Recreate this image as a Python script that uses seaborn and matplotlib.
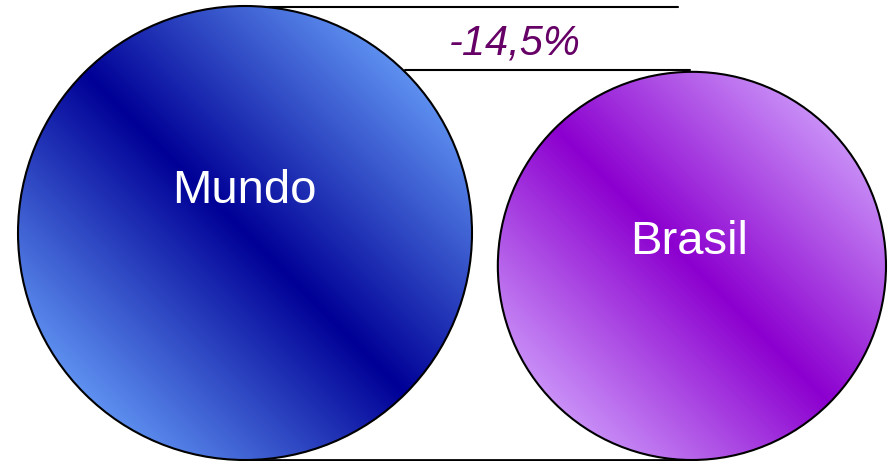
import numpy as np
import matplotlib
matplotlib.use("Agg")
import matplotlib.pyplot as plt
from matplotlib.patches import Circle
import seaborn as sns

# ---------------------------------------------------------------------------
# Data
# ---------------------------------------------------------------------------

LABELS = ["Mundo", "Brasil"]
VALUES = [100.0, 85.5]          # relative size (Mundo = 100)
LIGHT  = ["#5e90f0", "#c98ff7"]
DARK   = ["#000096", "#8c00cf"]

# ---------------------------------------------------------------------------
# Layout (pixel canvas 894 x 461)
# ---------------------------------------------------------------------------

W, H      = 894, 461
BASE_Y    = 460                  # circles sit on this line
PX_PER_U  = 2.27                 # radius in px per value unit
LEFT_X    = 18
RIGHT_X   = 886

sns.set_theme(style="white")
plt.rcParams["font.family"] = ["Liberation Sans", "DejaVu Sans"]

fig = plt.figure(figsize=(W / 100, H / 100), dpi=100)
ax = fig.add_axes([0, 0, 1, 1])
ax.set_xlim(0, W)
ax.set_ylim(H, 0)
ax.set_aspect("equal")
ax.axis("off")

radii = [v * PX_PER_U for v in VALUES]
centers = [
    (LEFT_X + radii[0], BASE_Y - radii[0]),
    (RIGHT_X - radii[1], BASE_Y - radii[1]),
]


def gradient_circle(cx, cy, r, light, dark):
    cmap = sns.blend_palette([dark, light], as_cmap=True)
    n = 400
    xs = np.linspace(cx - r, cx + r, n)
    ys = np.linspace(cy - r, cy + r, n)
    X, Y = np.meshgrid(xs, ys)
    d = np.abs((X - cx) - (Y - cy)) / (np.sqrt(2) * r)
    img = ax.imshow(d, cmap=cmap, vmin=0, vmax=1, origin="upper",
                    extent=[cx - r, cx + r, cy + r, cy - r],
                    interpolation="bilinear", zorder=1)
    clip = Circle((cx, cy), r, transform=ax.transData, facecolor="none")
    img.set_clip_path(clip)
    ax.add_patch(Circle((cx, cy), r, facecolor="none",
                        edgecolor="black", lw=1.5, zorder=2))


for (cx, cy), r, lt, dk in zip(centers, radii, LIGHT, DARK):
    gradient_circle(cx, cy, r, lt, dk)

# reference lines
(cx0, cy0), r0 = centers[0], radii[0]
(cx1, cy1), r1 = centers[1], radii[1]
top0 = cy0 - r0
top1 = cy1 - r1
x_cut = cx0 + np.sqrt(r0 ** 2 - (cy0 - top1) ** 2)
ax.plot([cx0, 678], [top0 + 1, top0 + 1], color="black", lw=1.5, zorder=0)
ax.plot([x_cut, 690], [top1 - 2, top1 - 2], color="black", lw=1.5, zorder=0)
ax.plot([cx0, 690], [BASE_Y, BASE_Y], color="black", lw=2.0, zorder=0)

# labels
ax.text(cx0 - 1, cy0 - 30, LABELS[0], color="white", fontsize=34,
        ha="center", va="baseline", zorder=3)
ax.text(cx1 - 3, cy1 - 12, LABELS[1], color="white", fontsize=34,
        ha="center", va="baseline", zorder=3)

pct = (VALUES[1] / VALUES[0] - 1) * 100
pct_txt = f"{pct:.1f}%".replace(".", ",")
ax.text(515, 55, pct_txt, color="#660066", fontsize=30, style="italic",
        ha="center", va="baseline", zorder=3)

fig.savefig("out.png", dpi=100, facecolor="white")
